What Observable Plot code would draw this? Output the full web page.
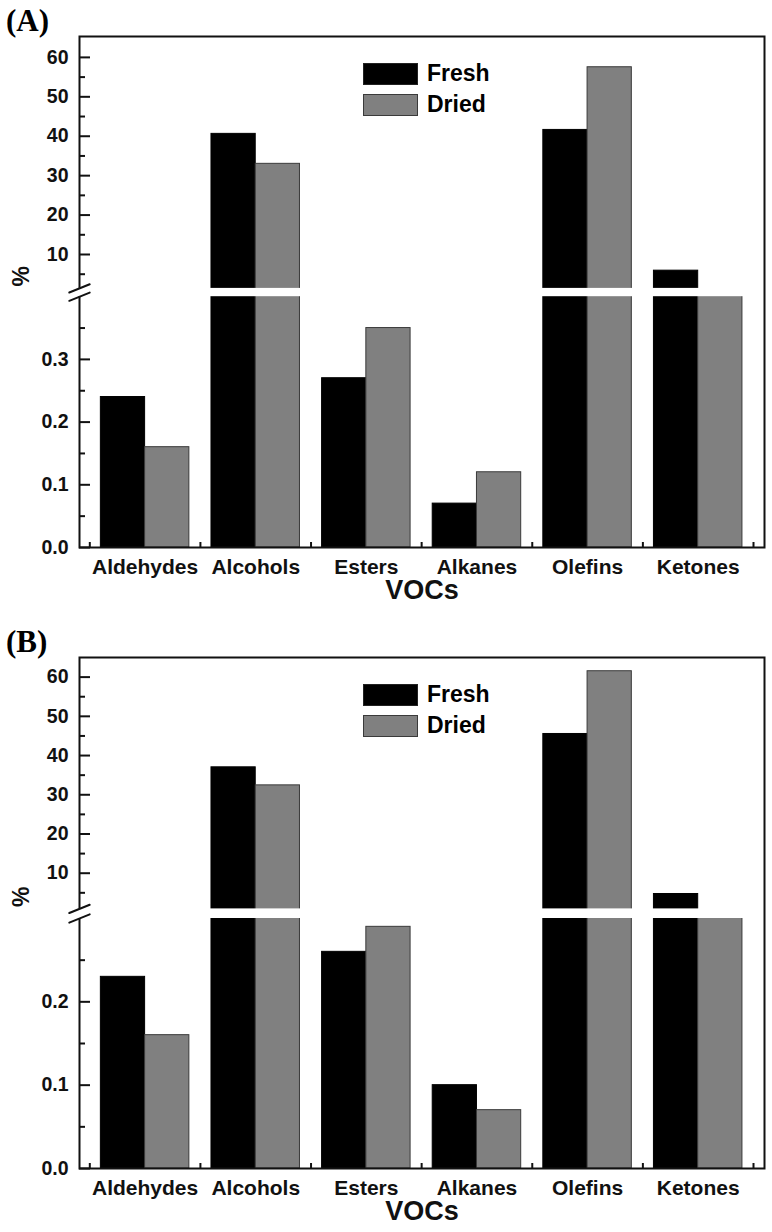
<!DOCTYPE html>
<html>
<head>
<meta charset="utf-8">
<script src="https://cdn.jsdelivr.net/npm/d3@7"></script>
<script src="https://cdn.jsdelivr.net/npm/@observablehq/plot@0.6"></script>
<style>
  body { margin: 0; background: #fff; font-family: "Liberation Sans", Arial, sans-serif; }
  .panel { position: relative; width: 772px; }
  .tag { position: absolute; left: 6px; font-family: "Liberation Serif", "Times New Roman", serif; font-weight: bold; font-size: 31px; line-height: 1; }
  .lg { position: absolute; left: 363px; width: 53px; height: 20px; border: 1px solid #222; }
  .lgt { position: absolute; left: 427px; font-weight: bold; font-size: 23px; line-height: 1; }
</style>
</head>
<body>
<div id="root"></div>
<script>
// ---- data ----
const categories = ["Aldehydes", "Alcohols", "Esters", "Alkanes", "Olefins", "Ketones"];
const seriesNames = ["Fresh", "Dried"];
const seriesColors = ["#000000", "#808080"];
const freshA = [0.24, 40.6, 0.27, 0.07, 41.6, 5.9];
const driedA = [0.16, 33.0, 0.35, 0.12, 57.5, 1.0];
const freshB = [0.23, 37.0, 0.26, 0.10, 45.5, 4.7];
const driedB = [0.16, 32.4, 0.29, 0.07, 61.5, 0.6];
const upperTicks = [10, 20, 30, 40, 50, 60];
const upperMinor = [5, 15, 25, 35, 45, 55];
const lowerTicksA = [0, 0.1, 0.2, 0.3];
const lowerMinorA = [0.05, 0.15, 0.25, 0.35];
const lowerTicksB = [0, 0.1, 0.2];
const lowerMinorB = [0.05, 0.15, 0.25];
// broken-axis breakpoints: [lower max, upper min, upper max]
const breaksA = [0.4, 1.4, 65.3];
const breaksB = [0.3, 0.9, 65.0];

function panel({tag, fresh, dried, lowerTicks, lowerMinor, breaks, height, yRange, legendTop}) {
  const [lowMax, upMin, upMax] = breaks;
  const rows = [];
  categories.forEach((c, i) => {
    rows.push({i, s: 0, v: fresh[i]});
    rows.push({i, s: 1, v: dried[i]});
  });
  const majors = [...lowerTicks, ...upperTicks];
  const minors = [...lowerMinor, ...upperMinor];
  const bounds = d3.range(-0.5, categories.length, 1);
  const line = {draw(ctx, l) { ctx.moveTo(0, 0); ctx.lineTo(0, -l); }};
  const fmt = d => d < 1 ? d.toFixed(1) : String(d);

  const svg = Plot.plot({
    width: 772,
    height,
    marginLeft: 79,
    marginRight: 8,
    marginTop: yRange[3],
    marginBottom: height - yRange[0],
    style: {fontFamily: "Liberation Sans, Arial, sans-serif", background: "#fff", color: "#111"},
    x: {type: "linear", domain: [-0.5, categories.length - 0.5], range: [89.3, 753], axis: null},
    y: {type: "linear", domain: [0, lowMax, upMin, upMax], range: yRange, axis: null},
    marks: [
      Plot.rect(rows, {
        x1: d => d.i + (d.s === 0 ? -0.4 : 0),
        x2: d => d.i + (d.s === 0 ? 0 : 0.4),
        y1: () => 0,
        y2: d => d.v,
        fill: d => seriesColors[d.s],
        stroke: d => d.s === 0 ? "#000" : "#3a3a3a",
        strokeWidth: 1
      }),
      Plot.frame({stroke: "#111", strokeWidth: 2}),
      // gap of the broken axis
      Plot.rect([0], {y1: () => lowMax, y2: () => upMin, fill: "#fff", insetLeft: -4, insetRight: 1.5}),
      Plot.vector([upMin, lowMax], {y: d => d, frameAnchor: "left", rotate: 68, length: 22, anchor: "middle", shape: line, stroke: "#111", strokeWidth: 2}),
      Plot.axisY({ticks: majors, tickSize: -11, tickFormat: () => "", strokeWidth: 2, stroke: "#111", label: null}),
      Plot.axisY({ticks: minors, tickSize: -6, tickFormat: () => "", strokeWidth: 2, stroke: "#111", label: null}),
      Plot.axisY({ticks: majors, tickSize: 0, tickPadding: 11, tickFormat: fmt, fontSize: 19.5, fontWeight: "bold", fill: "#111", label: null}),
      Plot.axisX({ticks: bounds, tickSize: -5, tickFormat: () => "", strokeWidth: 2, stroke: "#111", label: null}),
      Plot.axisX({ticks: d3.range(categories.length), tickSize: 0, tickPadding: 12, tickFormat: i => categories[i], fontSize: 21, fontWeight: "bold", fill: "#111", label: null}),
      Plot.text(["VOCs"], {frameAnchor: "bottom", dy: 51, fontSize: 27, fontWeight: "bold", fill: "#111"}),
      Plot.text(["%"], {frameAnchor: "left", y: () => upMin, dx: -58, dy: -2, rotate: -90, fontSize: 23, fontWeight: "bold", fill: "#111"})
    ]
  });

  const div = document.createElement("div");
  div.className = "panel";
  div.style.height = height + "px";
  div.appendChild(svg);
  const t = document.createElement("div");
  t.className = "tag";
  t.style.top = (yRange[3] - 31) + "px";
  t.textContent = tag;
  div.appendChild(t);
  seriesNames.forEach((name, k) => {
    const sw = document.createElement("div");
    sw.className = "lg";
    sw.style.top = (legendTop + k * 30.7) + "px";
    sw.style.background = seriesColors[k];
    if (k === 1) sw.style.borderColor = "#3a3a3a";
    div.appendChild(sw);
    const tx = document.createElement("div");
    tx.className = "lgt";
    tx.style.top = (legendTop + k * 30.7 - 1) + "px";
    tx.textContent = name;
    div.appendChild(tx);
  });
  return div;
}

const root = document.getElementById("root");
root.appendChild(panel({tag: "(A)", fresh: freshA, dried: driedA, lowerTicks: lowerTicksA, lowerMinor: lowerMinorA, breaks: breaksA, height: 620, yRange: [547, 296.2, 287.9, 36], legendTop: 63}));
root.appendChild(panel({tag: "(B)", fresh: freshB, dried: driedB, lowerTicks: lowerTicksB, lowerMinor: lowerMinorB, breaks: breaksB, height: 612, yRange: [548, 298, 288.4, 37], legendTop: 64}));
</script>
</body>
</html>
